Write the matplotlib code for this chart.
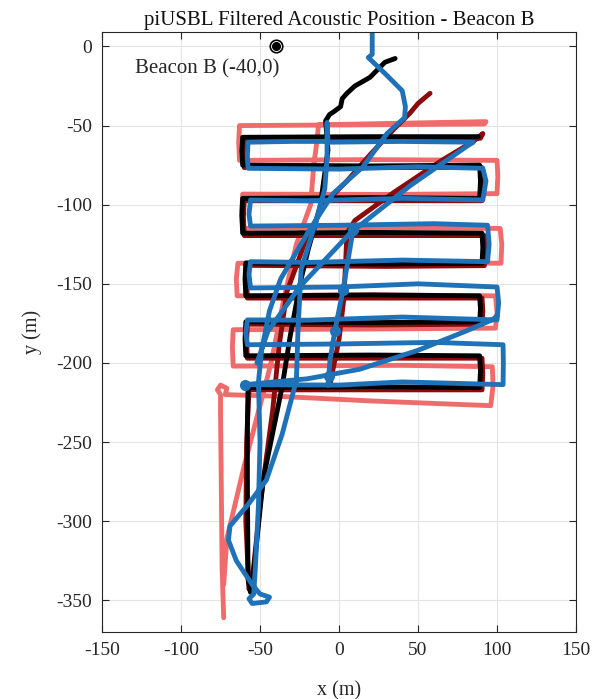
import numpy as np
import matplotlib
matplotlib.use("Agg")
import matplotlib.pyplot as plt

plt.rcParams['font.family'] = ['Liberation Serif', 'DejaVu Serif']
plt.rcParams['axes.unicode_minus'] = False

# ===================== track data (x, y in m) =====================
nan = np.nan

# light red track
salmon = np.array([
    [-73, -361], [-74, -330], [-74.5, -280], [-75, -230], [-75, -220],
    [-77, -217], [-75, -214], [-71, -216], [-72, -220],
    [-40, -221], [20, -224], [96, -227], [97.5, -214], [97, -202.4],
    [40, -201.5], [-67, -202], [-67.5, -190], [-67, -179],
    [30, -178.5], [99, -178], [100, -168], [99, -157.6],
    [20, -157], [-64.5, -157.6], [-65, -147], [-64, -137],
    [40, -136.5], [102.5, -137], [103, -125], [102, -115],
    [0, -114.5], [-61, -115], [-61.5, -104], [-61, -93.3],
    [30, -93.5], [100, -93], [100.5, -82], [100, -72],
    [20, -71.5], [-63, -72], [-63.5, -61], [-63, -50],
    [20, -49.5], [92, -49], [93, -47.5], [-13, -49.5],
    [-14, -60], [-16, -75], [-18, -100], [-27, -125], [-35, -160],
    [-43, -200], [-49, -223], [-60, -265], [-71, -311], [-73, -340],
])

# dark red track
darkred = np.array([
    [57.6, -29.6], [50, -36], [45, -42], [35, -52], [20, -68], [5, -85],
    [-10, -100], [-22, -125], [-33, -155], [-38, -190], [-42, -230],
    [-50, -290], [-55, -338], [-57, -343], [-59, -300], [-58.5, -250],
    [-57, -217], [20, -217], [90.5, -217], [91, -207], [90.5, -197],
    [20, -197], [-58, -197], [-58.5, -186], [-58, -175.5],
    [20, -176], [90.5, -175.5], [91, -167], [90.5, -159],
    [20, -159], [-58, -159], [-58.5, -148], [-58, -138.3],
    [30, -139], [92, -138.5], [92.5, -128], [92, -119.5],
    [20, -119.5], [-60, -119.5], [-60.5, -108], [-60, -97.5],
    [20, -97.5], [90.5, -97.5], [91, -86], [90.5, -76.5],
    [20, -76.5], [-60, -76.5], [-60.5, -67], [-60, -59],
    [20, -58.5], [89.5, -58], [91, -55], [85, -60], [65, -72],
    [35, -92], [10, -110], [5, -118], [4, -140], [3, -160],
    [0, -185], [-5, -210], [-6, -216],
])

# black track
black = np.array([
    [35.5, -7.6], [29, -10], [19.6, -19.5], [10, -25], [5, -29.6],
    [2, -33], [1, -38], [-3, -41], [-6, -43], [-8.5, -47],
    [-7, -65.6], [-12, -101.5], [-19.6, -128.6], [-24.7, -150],
    [-31, -183.5], [-36, -215], [-48, -273.6], [-55, -341], [-56, -345],
    [-57.6, -336.7], [-58, -273.6], [-58, -240], [-57.6, -215.6],
    [20, -215], [89, -215.6], [89.5, -205], [89, -195.5],
    [20, -195], [-59, -195.5], [-59.5, -185], [-59, -174],
    [20, -174.5], [89, -174], [89.5, -166], [89, -157.6],
    [20, -157], [-59, -157.6], [-59.5, -147], [-59, -136.8],
    [30, -137.5], [90.5, -137], [91, -127], [90.5, -118],
    [20, -117.5], [-61, -118], [-61.5, -107], [-61, -96],
    [20, -95.5], [89, -96], [89.5, -85], [89, -75],
    [20, -75.5], [-61, -75], [-61.5, -66], [-61, -57.4],
    [20, -57], [88, -57],
])

# blue track (gaps = separate passes)
blue = np.array([
    [21, 12], [21, -5], [18.5, -7], [29, -17], [40, -28], [42, -38],
    [41.5, -45], [30.4, -55], [15.2, -76], [-3.8, -93], [-20, -118],
    [-37, -147], [-44, -167], [-49, -192], [-51, -212], [-50, -250],
    [-51, -290], [-53, -330], [-54, -346], [-57, -349], [-55, -352],
    [-46, -351], [-44, -348], [-50, -346], [-55, -340], [-65, -325],
    [-70, -312], [-69, -303], [-58, -290], [-46, -274], [-36, -245],
    [-27, -211], [-26, -180], [-24, -141], [-16, -115], [-9, -90],
    [-7.6, -70], [-7.6, -48], [-7, -60],
    [-30, -60], [-57.6, -60.5], [-58, -69], [-57.6, -77],
    [0, -77.5], [50, -76], [91, -77], [93, -85], [91, -97],
    [40, -96], [-20, -97.5], [-56, -97], [-57, -106], [-56, -113.5],
    [0, -113], [60, -112], [94, -113], [95, -125], [94, -136],
    [40, -135], [-20, -136.5], [-56, -136], [-57, -144], [-56, -152.6],
    [0, -152], [50, -150], [100, -152], [101, -162], [100, -172.8],
    [40, -171], [-20, -173], [-58, -172.8], [-59, -181], [-58, -188.5],
    [0, -188], [60, -187], [103.8, -188.5], [104, -200], [103.8, -213.7],
    [40, -212], [0, -214], [-59.5, -213.7],
    [-20, -210], [13, -204], [50, -192], [80, -180], [97.5, -172.5], [100, -170],
    [nan, nan],
    [-7, -60.5], [40, -60], [85, -60.5], [81, -63], [45, -88], [7, -118],
    [-25, -152], [-45, -180], [-52, -200],
    [nan, nan],
    [10, -113], [8.9, -116], [5.7, -135], [2.5, -154], [-2.5, -179],
    [-5.7, -198], [-7, -214],
])

# spots where the blue fixes pile up
blue_blobs = np.array([
    [8.9, -116], [2.5, -154], [-2.6, -180], [-6.5, -208], [-59.5, -213.7],
])

beacon_x, beacon_y = -40, 0
xticks = [-150, -100, -50, 0, 50, 100, 150]
yticks = [-350, -300, -250, -200, -150, -100, -50, 0]

# ===================== plot =====================
fig = plt.figure(figsize=(5.97, 6.99), dpi=100)
ax = fig.add_axes([0.1709, 0.0959, 0.794, 0.858])

lk = dict(lw=3.5, solid_capstyle='round', solid_joinstyle='round')
ax.plot(salmon[:, 0], salmon[:, 1], color='#f06c6c', **lk)
ax.plot(darkred[:, 0], darkred[:, 1], color='#8b0a0a', **lk)
ax.plot(black[:, 0], black[:, 1], color='black', **lk)
ax.plot(blue[:, 0], blue[:, 1], color='#1f72b8', **lk)
ax.plot(blue_blobs[:, 0], blue_blobs[:, 1], 'o', ms=7, color='#1f72b8')

ax.plot(beacon_x, beacon_y, 'o', ms=9, mfc='white', mec='black', mew=1.2)
ax.plot(beacon_x, beacon_y, 'o', ms=5.5, color='black')
ax.text(-38, -14, 'Beacon B (-40,0)', ha='right', va='center', fontsize=15, color='#262626')

ax.set_xlim(-150, 150)
ax.set_ylim(-370, 9)
ax.set_xticks(xticks)
ax.set_yticks(yticks)
ax.grid(True, color='#e4e4e4', lw=0.8)
ax.set_axisbelow(True)
ax.tick_params(direction='in', top=True, right=True, length=5, width=0.8,
               colors='#262626', labelsize=14, pad=7)
for s in ax.spines.values():
    s.set_color('#262626')
    s.set_linewidth(0.8)

ax.set_title('piUSBL Filtered Acoustic Position - Beacon B', fontsize=15, color='#111111', pad=5)
ax.set_xlabel('x (m)', fontsize=14.5, color='#262626', labelpad=16)
ax.set_ylabel('y (m)', fontsize=14.5, color='#262626', labelpad=10)

fig.savefig('out.png', dpi=100)
